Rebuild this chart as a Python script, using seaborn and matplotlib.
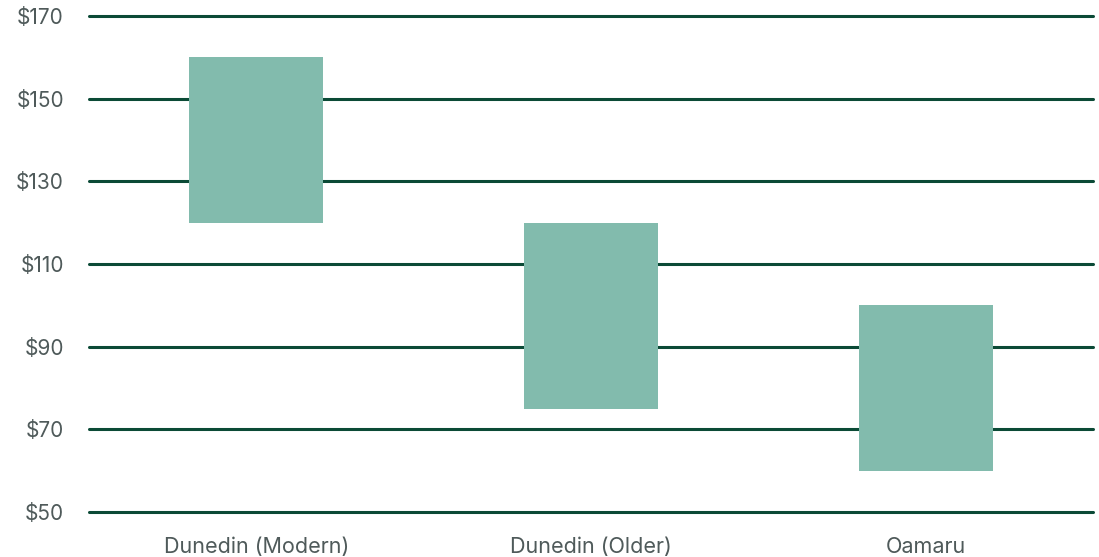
import matplotlib
matplotlib.use("Agg")
import matplotlib.pyplot as plt
import seaborn as sns
import pandas as pd

categories = ["Dunedin (Modern)", "Dunedin (Older)", "Oamaru"]
low_values = [120, 75, 60]
high_values = [160, 120, 100]
y_ticks = [50, 70, 90, 110, 130, 150, 170]
y_tick_labels = ["$50", "$70", "$90", "$110", "$130", "$150", "$170"]

df = pd.DataFrame({
    "category": categories,
    "low": low_values,
    "high": high_values,
})
df["span"] = df["high"] - df["low"]

sns.set_theme(style="white")
plt.rcParams["font.family"] = ["Inter", "DejaVu Sans"]

fig = plt.figure(figsize=(10.99, 5.57), dpi=100)
ax = fig.add_axes([89 / 1099, 1 - 512 / 557, (1093 - 89) / 1099, (512 - 16) / 557])

sns.barplot(data=df, x="category", y="span", order=categories, bottom=df["low"].to_numpy(),
            color="#82BBAD", saturation=1, width=0.4, edgecolor="none", linewidth=0,
            ax=ax, zorder=3)

ax.set_xlim(-0.5, 2.5)
ax.set_ylim(50, 170)
ax.set_yticks(y_ticks)
ax.set_yticklabels(y_tick_labels)
ax.set_xlabel("")
ax.set_ylabel("")
ax.grid(axis="y", color="#0B4A36", linewidth=2.2, zorder=1)
ax.grid(axis="x", visible=False)
ax.set_axisbelow(True)
for line in ax.get_ygridlines():
    line.set_clip_on(False)
for s in ax.spines.values():
    s.set_visible(False)
ax.tick_params(axis="y", length=0, pad=18, labelsize=15, labelcolor="#4F5A5A")
ax.tick_params(axis="x", length=0, pad=18, labelsize=15.5, labelcolor="#4F5A5A")

fig.savefig("out.png", dpi=100)
